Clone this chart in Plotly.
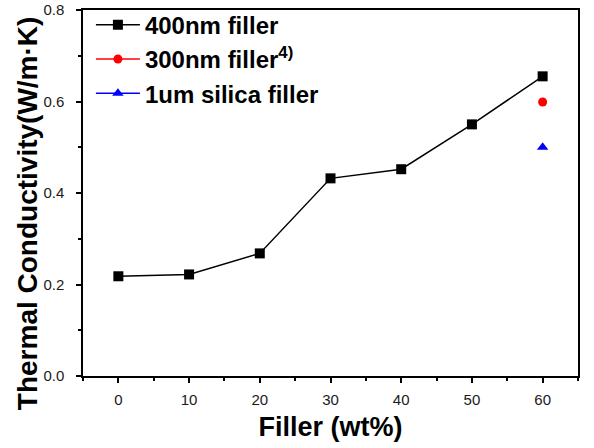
import plotly.graph_objects as go

filler_400 = [0, 10, 20, 30, 40, 50, 60]
tc_400 = [0.218, 0.222, 0.268, 0.432, 0.452, 0.550, 0.655]
filler_300 = [60]
tc_300 = [0.599]
filler_1um = [60]
tc_1um = [0.500]

FONT = "Arial, Liberation Sans, sans-serif"

fig = go.Figure()
fig.add_trace(go.Scatter(x=filler_400, y=tc_400, mode="lines+markers", name="400nm filler",
                         line=dict(color="black", width=1.5),
                         marker=dict(symbol="square", size=10, color="black")))
fig.add_trace(go.Scatter(x=filler_300, y=tc_300, mode="lines+markers", name="300nm filler<sup>4)</sup>",
                         line=dict(color="red", width=1.5),
                         marker=dict(symbol="circle", size=9, color="red")))
fig.add_trace(go.Scatter(x=filler_1um, y=tc_1um, mode="lines+markers", name="1um silica filler",
                         line=dict(color="blue", width=1.5),
                         marker=dict(symbol="triangle-up", size=10, color="blue")))

axis_common = dict(showline=True, linecolor="black", linewidth=1.5, mirror=True,
                   showgrid=False, zeroline=False, ticks="outside", ticklen=5,
                   tickcolor="black", tickwidth=1.5,
                   tickfont=dict(family=FONT, size=15, color="#1a1a1a"))

fig.update_xaxes(range=[-5, 65], tickvals=[0, 10, 20, 30, 40, 50, 60],
                 minor=dict(ticks="outside", ticklen=3, tickcolor="black", dtick=5, tick0=0),
                 ticklabelstandoff=4,
                 title=dict(text="<b>Filler (wt%)</b>", font=dict(family=FONT, size=27, color="black"), standoff=10),
                 **axis_common)
fig.update_yaxes(range=[0, 0.8], tickvals=[0, 0.2, 0.4, 0.6, 0.8], ticktext=["0.0", "0.2", "0.4", "0.6", "0.8"],
                 minor=dict(ticks="outside", ticklen=3, tickcolor="black", dtick=0.1, tick0=0),
                 ticklabelstandoff=9,
                 **axis_common)

fig.add_annotation(text="<b>Thermal Conductivity(W/m·K)</b>", textangle=-90,
                   xref="paper", yref="paper", x=-0.113, y=0.445,
                   xanchor="center", yanchor="middle", showarrow=False,
                   font=dict(family=FONT, size=28, color="black"))

fig.update_layout(width=594, height=448,
                  margin=dict(l=83, r=16, t=10, b=72, autoexpand=False),
                  plot_bgcolor="white", paper_bgcolor="white",
                  legend=dict(x=0.016, y=1.02, xanchor="left", yanchor="top",
                              font=dict(family=FONT, size=24, color="black", weight="bold"),
                              bgcolor="rgba(0,0,0,0)", itemwidth=44, tracegroupgap=0),
                  showlegend=True)

fig.write_html("out.html")
